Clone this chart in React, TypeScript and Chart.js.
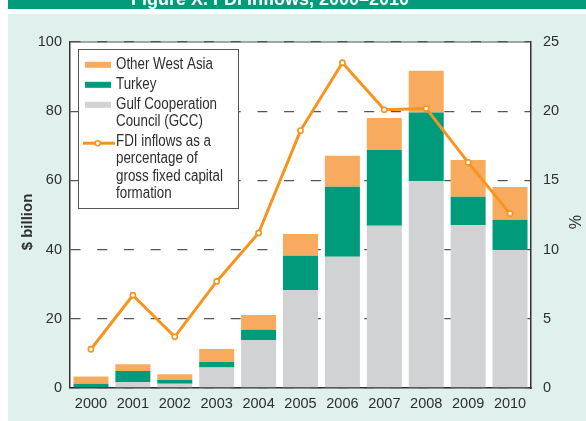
import { useEffect, useRef } from 'react';
import { Chart, registerables } from 'chart.js';

Chart.register(...registerables);

const years = ['2000', '2001', '2002', '2003', '2004', '2005', '2006', '2007', '2008', '2009', '2010'];
const gcc = [0.2, 1.7, 1.2, 5.9, 13.9, 28.3, 37.9, 46.9, 59.8, 47.1, 39.9];
const turkey = [1.0, 3.2, 1.1, 1.6, 2.9, 9.9, 20.3, 21.9, 19.8, 8.2, 8.7];
const otherWestAsia = [2.1, 2.0, 1.7, 3.8, 4.3, 6.3, 8.9, 9.2, 12.1, 10.6, 9.5];
const fdiPct = [2.8, 6.7, 3.7, 7.7, 11.2, 18.6, 23.5, 20.1, 20.2, 16.3, 12.6];

const leftAxis = { min: 0, max: 100, step: 20 };
const rightAxis = { min: 0, max: 25, step: 5 };

const titleText = 'Figure X. FDI inflows, 2000–2010';
const leftTitle = '$ billion';
const rightTitle = '%';

const legendLabels: string[][] = [
  ['Other West Asia'],
  ['Turkey'],
  ['Gulf Cooperation', 'Council (GCC)'],
  ['FDI inflows as a', 'percentage of', 'gross fixed capital', 'formation'],
];

const C_OTHER = '#f8ab5e';
const C_TURKEY = '#009b7a';
const C_GCC = '#d1d2d4';
const C_LINE = '#f7941d';
const C_TEXT = '#2e2e2e';
const FONT = '"Liberation Sans", Arial, sans-serif';

const decorPlugin = {
  id: 'decor',
  beforeDraw(chart: any) {
    const { ctx, chartArea: a, width, height } = chart;
    ctx.save();
    ctx.fillStyle = '#ffffff';
    ctx.fillRect(0, 0, width, height);
    ctx.fillStyle = '#009b7a';
    ctx.fillRect(8, 0, width - 8, 9);
    ctx.fillStyle = '#e0f1ed';
    ctx.fillRect(8, 14, width - 8, height - 14);
    ctx.fillStyle = '#ffffff';
    ctx.fillRect(a.left, a.top, a.right - a.left, a.bottom - a.top);
    ctx.fillStyle = '#ffffff';
    ctx.font = 'bold 18px ' + FONT;
    ctx.textAlign = 'center';
    ctx.textBaseline = 'alphabetic';
    ctx.fillText(titleText, 270, 4.5);
    ctx.strokeStyle = '#8a8a8a';
    ctx.lineWidth = 1.5;
    ctx.beginPath();
    ctx.moveTo(a.left, a.top);
    ctx.lineTo(a.right, a.top);
    ctx.stroke();
    ctx.restore();
  },
  afterDraw(chart: any) {
    const { ctx } = chart;
    ctx.save();
    // legend box
    ctx.fillStyle = '#ffffff';
    ctx.fillRect(78.5, 49.5, 160, 159);
    ctx.strokeStyle = '#555555';
    ctx.lineWidth = 1;
    ctx.strokeRect(78.5, 49.5, 160, 159);
    const colors = [C_OTHER, C_TURKEY, C_GCC];
    ctx.font = '16px ' + FONT;
    ctx.textAlign = 'left';
    ctx.textBaseline = 'alphabetic';
    let b = 69;
    legendLabels.forEach((lines, i) => {
      if (i < 3) {
        ctx.fillStyle = colors[i];
        ctx.fillRect(85, b - 7.2, 26, 6);
      } else {
        ctx.strokeStyle = C_LINE;
        ctx.lineWidth = 3;
        ctx.beginPath();
        ctx.moveTo(83, b - 3);
        ctx.lineTo(115, b - 3);
        ctx.stroke();
        ctx.beginPath();
        ctx.arc(97.7, b - 3, 2.5, 0, Math.PI * 2);
        ctx.fillStyle = '#ffffff';
        ctx.fill();
        ctx.lineWidth = 1.5;
        ctx.stroke();
      }
      ctx.fillStyle = C_TEXT;
      lines.forEach((t, j) => {
        ctx.save();
        ctx.translate(116, b + j * 17.2);
        ctx.scale(0.835, 1);
        ctx.fillText(t, 0, 0);
        ctx.restore();
      });
      b += lines.length * 17.2 + 2.8;
    });
    // axis titles
    ctx.fillStyle = C_TEXT;
    ctx.textAlign = 'center';
    ctx.textBaseline = 'middle';
    ctx.save();
    ctx.translate(28, 222);
    ctx.rotate(-Math.PI / 2);
    ctx.font = 'bold 15px ' + FONT;
    ctx.fillText(leftTitle, 0, 0);
    ctx.restore();
    ctx.save();
    ctx.translate(573, 222);
    ctx.rotate(Math.PI / 2);
    ctx.font = '16px ' + FONT;
    ctx.fillText(rightTitle, 0, 0);
    ctx.restore();
    ctx.restore();
  },
};

export default function App() {
  const ref = useRef<HTMLCanvasElement | null>(null);
  useEffect(() => {
    if (!ref.current) return;
    const chart = new Chart(ref.current, {
      type: 'bar',
      data: {
        labels: years,
        datasets: [
          {
            type: 'line',
            label: 'FDI inflows as a percentage of gross fixed capital formation',
            data: fdiPct,
            yAxisID: 'y1',
            borderColor: C_LINE,
            borderWidth: 3,
            tension: 0,
            pointRadius: 2.6,
            pointBorderWidth: 1.6,
            pointBackgroundColor: '#ffffff',
            pointBorderColor: C_LINE,
            order: 0,
          } as any,
          {
            label: 'Gulf Cooperation Council (GCC)',
            data: gcc,
            backgroundColor: C_GCC,
            yAxisID: 'y',
            order: 1,
          },
          {
            label: 'Turkey',
            data: turkey,
            backgroundColor: C_TURKEY,
            yAxisID: 'y',
            order: 1,
          },
          {
            label: 'Other West Asia',
            data: otherWestAsia,
            backgroundColor: C_OTHER,
            yAxisID: 'y',
            order: 1,
          },
        ],
      },
      options: {
        responsive: false,
        animation: false,
        barPercentage: 0.835,
        categoryPercentage: 1,
        layout: { padding: { top: 42, left: 0, right: 0, bottom: 0 } },
        plugins: { legend: { display: false }, tooltip: { enabled: false }, title: { display: false } },
        scales: {
          x: {
            stacked: true,
            grid: { display: false, drawTicks: false },
            border: { display: true, color: '#333333', width: 1.5 },
            ticks: { color: C_TEXT, font: { size: 14.5, family: FONT }, padding: 7 },
            afterFit: (s: any) => { s.height = 33; },
          },
          y: {
            position: 'left',
            stacked: true,
            min: leftAxis.min,
            max: leftAxis.max,
            ticks: { stepSize: leftAxis.step, color: C_TEXT, font: { size: 14.5, family: FONT }, padding: 8 },
            grid: { color: '#555555', lineWidth: 1.3, drawTicks: false },
            border: { display: true, color: '#333333', width: 1.5, dash: [10, 16.7] },
            afterFit: (s: any) => { s.width = 70; },
          },
          y1: {
            position: 'right',
            min: rightAxis.min,
            max: rightAxis.max,
            ticks: { stepSize: rightAxis.step, color: C_TEXT, font: { size: 14.5, family: FONT }, padding: 12 },
            grid: { display: false, drawTicks: false },
            border: { display: true, color: '#333333', width: 1.5 },
            afterFit: (s: any) => { s.width = 55; },
          },
        },
      },
      plugins: [decorPlugin],
    });
    return () => chart.destroy();
  }, []);
  return (
    <div style={{ position: 'fixed', left: 0, top: 0 }}>
      <canvas ref={ref} width={586} height={421} style={{ display: 'block' }} />
    </div>
  );
}
